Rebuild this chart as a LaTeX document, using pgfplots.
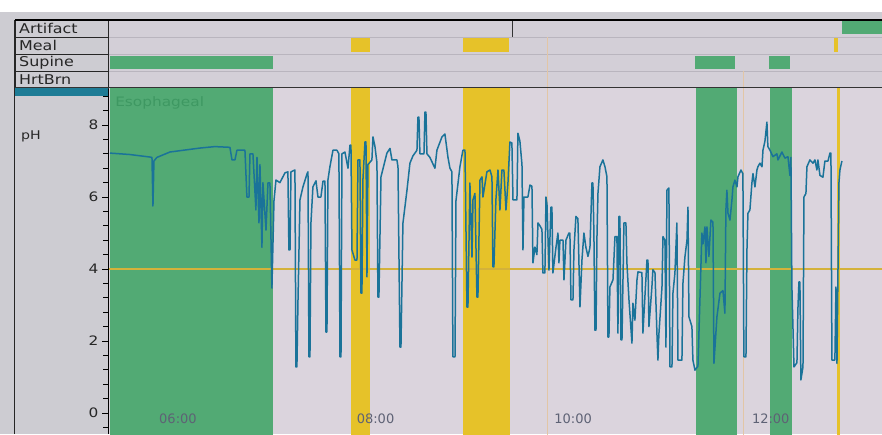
\documentclass[border=0pt]{standalone}
\usepackage{pgfplots}
\usepackage{pgfplotstable}
\pgfplotsset{compat=1.18}
\usepackage{fontspec}
\setmainfont{DejaVu Sans}
\newfontfamily\lblfont[FakeStretch=1.18]{DejaVu Sans}

\definecolor{plotbg}{HTML}{DBD4DD}
\definecolor{rowbg}{HTML}{D3CFD7}
\definecolor{panelbg}{HTML}{CDCCD2}
\definecolor{supgreen}{HTML}{52AA74}
\definecolor{mealyel}{HTML}{E6C229}
\definecolor{tracecol}{HTML}{1A7399}
\definecolor{phline}{HTML}{D4B23A}
\definecolor{bluebar}{HTML}{1E7C96}
\definecolor{esotext}{HTML}{3E9862}
\definecolor{faint}{HTML}{E2C6A6}
\definecolor{rowline}{HTML}{B9B5BE}
\definecolor{xlab}{HTML}{5E6275}

\pgfplotstableread{
h ph
5.312 7.22
5.514 7.18
5.717 7.11
5.737 7.10
5.747 5.75
5.757 7.00
5.787 7.10
5.919 7.25
6.223 7.36
6.374 7.40
6.526 7.38
6.547 7.03
6.577 7.03
6.597 7.30
6.678 7.30
6.698 6.00
6.719 6.00
6.729 7.20
6.759 7.20
6.789 5.64
6.800 7.10
6.820 5.28
6.830 6.90
6.850 4.60
6.860 6.40
6.891 5.08
6.911 6.39
6.931 6.39
6.951 3.47
6.972 5.90
6.992 6.47
7.032 6.40
7.083 6.67
7.113 6.70
7.123 4.53
7.134 4.53
7.144 6.70
7.184 6.75
7.194 1.28
7.204 1.28
7.215 3.14
7.235 5.92
7.265 6.28
7.306 6.64
7.316 6.70
7.326 1.56
7.336 1.56
7.346 5.28
7.366 6.28
7.397 6.45
7.417 6.00
7.447 6.00
7.468 6.44
7.488 6.44
7.498 2.25
7.508 2.25
7.518 6.47
7.538 6.84
7.569 7.30
7.609 7.30
7.629 7.20
7.640 1.56
7.650 1.56
7.660 7.20
7.690 7.25
7.721 6.80
7.741 7.44
7.751 7.44
7.761 4.53
7.791 4.25
7.812 4.25
7.822 7.03
7.842 7.03
7.852 3.33
7.862 3.33
7.872 6.47
7.893 7.53
7.903 7.53
7.913 3.78
7.923 6.90
7.963 7.03
7.974 7.67
7.994 7.40
8.014 6.95
8.024 3.22
8.034 3.22
8.055 6.56
8.095 7.00
8.115 7.22
8.146 7.35
8.166 7.03
8.216 7.03
8.227 6.84
8.247 1.83
8.257 1.83
8.277 5.27
8.318 6.19
8.348 6.94
8.378 7.14
8.419 7.30
8.429 8.22
8.439 8.22
8.449 7.20
8.490 7.20
8.500 8.36
8.510 8.36
8.520 7.20
8.550 7.10
8.601 6.80
8.621 7.30
8.672 7.67
8.702 7.75
8.733 7.10
8.753 6.80
8.773 6.70
8.783 1.56
8.804 1.56
8.814 5.90
8.854 6.84
8.884 7.30
8.905 7.30
8.925 2.94
8.935 2.94
8.955 6.39
8.976 4.33
8.986 5.92
9.006 6.10
9.026 3.22
9.036 3.22
9.057 6.47
9.077 6.56
9.087 6.00
9.127 6.70
9.158 6.75
9.178 6.56
9.188 4.06
9.198 4.06
9.218 5.92
9.239 6.75
9.259 5.64
9.279 6.75
9.299 6.75
9.320 5.64
9.340 6.39
9.360 7.53
9.380 7.50
9.391 5.92
9.431 5.92
9.441 7.77
9.461 7.55
9.482 6.90
9.492 4.53
9.502 6.00
9.542 6.00
9.563 6.33
9.583 6.30
9.593 4.17
9.613 4.61
9.633 4.40
9.644 5.28
9.664 5.20
9.684 5.10
9.694 3.89
9.714 3.89
9.725 6.00
9.735 5.80
9.755 3.97
9.775 5.72
9.785 5.72
9.795 3.89
9.826 4.60
9.846 5.00
9.856 4.17
9.866 4.80
9.897 4.80
9.907 3.70
9.927 4.80
9.957 5.00
9.967 5.00
9.978 3.14
9.998 3.14
10.008 4.53
10.028 5.46
10.048 5.40
10.069 2.95
10.089 4.25
10.109 5.00
10.129 4.60
10.150 4.35
10.170 4.60
10.190 6.39
10.200 6.39
10.210 5.00
10.220 2.30
10.231 2.30
10.241 4.90
10.251 6.10
10.271 6.84
10.301 7.03
10.322 6.84
10.342 6.56
10.352 2.11
10.362 2.11
10.372 3.50
10.403 3.70
10.423 4.90
10.443 4.90
10.453 2.22
10.463 5.46
10.473 5.46
10.484 2.03
10.494 2.03
10.514 5.28
10.534 5.28
10.544 4.17
10.565 3.14
10.595 1.94
10.605 3.05
10.625 2.58
10.646 3.70
10.656 3.92
10.696 3.90
10.706 2.22
10.727 3.27
10.747 4.25
10.757 4.25
10.767 2.40
10.797 3.50
10.807 3.98
10.828 3.90
10.848 2.20
10.858 1.47
10.868 2.20
10.899 3.50
10.909 4.90
10.929 4.80
10.939 1.83
10.949 6.19
10.969 6.25
10.980 1.28
11.000 1.28
11.010 3.33
11.030 3.89
11.050 5.28
11.061 1.47
11.101 1.47
11.111 3.60
11.131 4.33
11.152 4.80
11.162 5.72
11.172 2.67
11.202 2.40
11.212 1.47
11.233 1.19
11.263 1.30
11.283 3.14
11.303 5.00
11.314 4.70
11.334 5.17
11.344 4.17
11.354 5.17
11.374 4.35
11.394 5.36
11.415 5.30
11.425 1.38
11.455 2.67
11.486 3.33
11.516 3.40
11.536 2.77
11.546 5.64
11.556 6.19
11.567 5.55
11.587 5.36
11.607 5.92
11.617 6.28
11.637 6.47
11.658 6.28
11.668 6.56
11.698 6.75
11.718 6.65
11.728 1.56
11.749 1.56
11.759 4.53
11.769 5.55
11.789 5.64
11.809 6.39
11.820 6.65
11.840 6.28
11.860 6.75
11.870 6.84
11.890 6.94
11.911 6.84
11.921 7.30
11.941 7.55
11.961 8.08
11.971 7.40
11.992 7.30
12.022 7.12
12.062 7.20
12.073 7.03
12.113 7.25
12.143 7.08
12.174 7.12
12.194 6.60
12.204 7.10
12.214 3.50
12.235 1.28
12.265 1.40
12.275 2.90
12.285 3.64
12.295 3.64
12.305 0.92
12.326 1.28
12.336 6.00
12.356 6.10
12.366 6.84
12.396 7.03
12.427 6.94
12.447 7.03
12.467 6.75
12.477 7.03
12.498 6.60
12.528 6.55
12.548 7.00
12.579 7.00
12.599 7.22
12.609 7.22
12.619 1.47
12.649 1.47
12.660 3.50
12.670 1.38
12.690 6.39
12.700 6.75
12.720 7.00
}\phdata

\begin{document}
\begin{tikzpicture}[x=1pt,y=1pt]
\useasboundingbox (0,0) rectangle (882,434);
\fill[panelbg] (0,0) rectangle (882,434);
\fill[white] (0,422) rectangle (882,434);

% ---------------- main pH axis ----------------
\begin{axis}[
  at={(108pt,0pt)}, anchor=south west,
  scale only axis, width=774pt, height=346pt,
  xmin=5.292, xmax=13.126, ymin=-0.583, ymax=9.028,
  axis background/.style={fill=plotbg},
  axis on top,
  axis lines=left, axis line style={-},
  x axis line style={draw=none},
  y axis line style={black, line width=1pt},
  xtick={6,8,10,12}, xticklabels={06:00,08:00,10:00,12:00},
  xtick style={draw=none},
  xticklabel style={font=\fontsize{13}{13}\selectfont, text=xlab, anchor=center, yshift=21pt},
  ytick={0,2,4,6,8},
  minor ytick={-0.4,0.4,0.8,1.2,1.6,2.4,2.8,3.2,3.6,4.4,4.8,5.2,5.6,6.4,6.8,7.2,7.6,8.4,8.8},
  tick align=outside, major tick length=6pt, minor tick length=5pt,
  ytick style={black, line width=0.8pt},
  /pgf/number format/assume math mode=true,
  yticklabel style={font=\lblfont\fontsize{13}{13}\selectfont, text=black!85},
]
% supine (green) bands
\addplot[fill=supgreen, draw=none] coordinates {(5.312,-0.6) (6.961,-0.6) (6.961,9.1) (5.312,9.1)} -- cycle;
\addplot[fill=supgreen, draw=none] coordinates {(11.243,-0.6) (11.658,-0.6) (11.658,9.1) (11.243,9.1)} -- cycle;
\addplot[fill=supgreen, draw=none] coordinates {(11.992,-0.6) (12.214,-0.6) (12.214,9.1) (11.992,9.1)} -- cycle;
% meal (yellow) bands
\addplot[fill=mealyel, draw=none] coordinates {(7.751,-0.6) (7.943,-0.6) (7.943,9.1) (7.751,9.1)} -- cycle;
\addplot[fill=mealyel, draw=none] coordinates {(8.884,-0.6) (9.360,-0.6) (9.360,9.1) (8.884,9.1)} -- cycle;
\addplot[fill=mealyel, draw=none] coordinates {(12.670,-0.6) (12.700,-0.6) (12.700,9.1) (12.670,9.1)} -- cycle;
% faint markers
\addplot[faint, line width=0.8pt] coordinates {(9.735,-0.6) (9.735,9.1)};
\addplot[faint, line width=0.8pt] coordinates {(11.718,-0.6) (11.718,9.1)};
% pH 4 threshold
\addplot[phline, line width=1.1pt] coordinates {(5.292,4) (13.126,4)};
% pH trace
\addplot[tracecol, line width=1.5pt, line join=round] table[x=h, y=ph] {\phdata};
\node[anchor=west, text=esotext, font=\lblfont\fontsize{13}{13}\selectfont] at (axis cs:5.33,8.62) {Esophageal};
\end{axis}

% ---------------- event rows axis ----------------
\begin{axis}[
  at={(108pt,346pt)}, anchor=south west,
  scale only axis, width=774pt, height=68pt,
  xmin=5.292, xmax=13.126, ymin=0, ymax=4,
  axis background/.style={fill=rowbg},
  axis line style={draw=none},
  xtick=\empty, ytick={1,2,3}, yticklabels={},
  major tick length=0pt,
  ymajorgrids, major grid style={rowline, line width=0.7pt},
]
\addplot[fill=supgreen, draw=none] coordinates {(12.720,3.2) (13.2,3.2) (13.2,4) (12.720,4)} -- cycle;
\addplot[fill=mealyel, draw=none] coordinates {(7.751,2.1) (7.943,2.1) (7.943,2.92) (7.751,2.92)} -- cycle;
\addplot[fill=mealyel, draw=none] coordinates {(8.884,2.1) (9.350,2.1) (9.350,2.92) (8.884,2.92)} -- cycle;
\addplot[fill=mealyel, draw=none] coordinates {(12.640,2.1) (12.680,2.1) (12.680,2.92) (12.640,2.92)} -- cycle;
\addplot[fill=supgreen, draw=none] coordinates {(5.312,1.1) (6.961,1.1) (6.961,1.9) (5.312,1.9)} -- cycle;
\addplot[fill=supgreen, draw=none] coordinates {(11.233,1.1) (11.638,1.1) (11.638,1.9) (11.233,1.9)} -- cycle;
\addplot[fill=supgreen, draw=none] coordinates {(11.981,1.1) (12.194,1.1) (12.194,1.9) (11.981,1.9)} -- cycle;
\addplot[faint, line width=0.8pt] coordinates {(9.735,0) (9.735,3)};
\addplot[faint, line width=0.8pt] coordinates {(11.718,0) (11.718,1)};
\addplot[black!80, line width=0.8pt] coordinates {(9.380,3) (9.380,4)};
\end{axis}

% ---------------- label panel ----------------
\fill[panelbg] (15,346) rectangle (108,414);
\draw[black!85, line width=0.9pt] (15,346) rectangle (108,414);
\foreach \yy in {363,380,397} \draw[black!85, line width=0.9pt] (15,\yy) -- (108,\yy);
\draw[black, line width=1.3pt] (15,414) -- (882,414);
\draw[black!80, line width=1pt] (15,346) -- (882,346);
\draw[black!85, line width=0.9pt] (14,0) -- (14,414);
\fill[bluebar] (15,338) rectangle (108,346);
\begin{scope}[every node/.style={anchor=west, inner sep=0pt, text=black!85, font=\lblfont\fontsize{13.5}{13.5}\selectfont}]
\node at (19,405.5) {Artifact};
\node at (19,388.5) {Meal};
\node at (19,371.5) {Supine};
\node at (19,354.5) {HrtBrn};
\end{scope}
\node[anchor=west, inner sep=0pt, text=black!85, font=\lblfont\fontsize{12}{12}\selectfont] at (21,298) {pH};
\end{tikzpicture}
\end{document}
